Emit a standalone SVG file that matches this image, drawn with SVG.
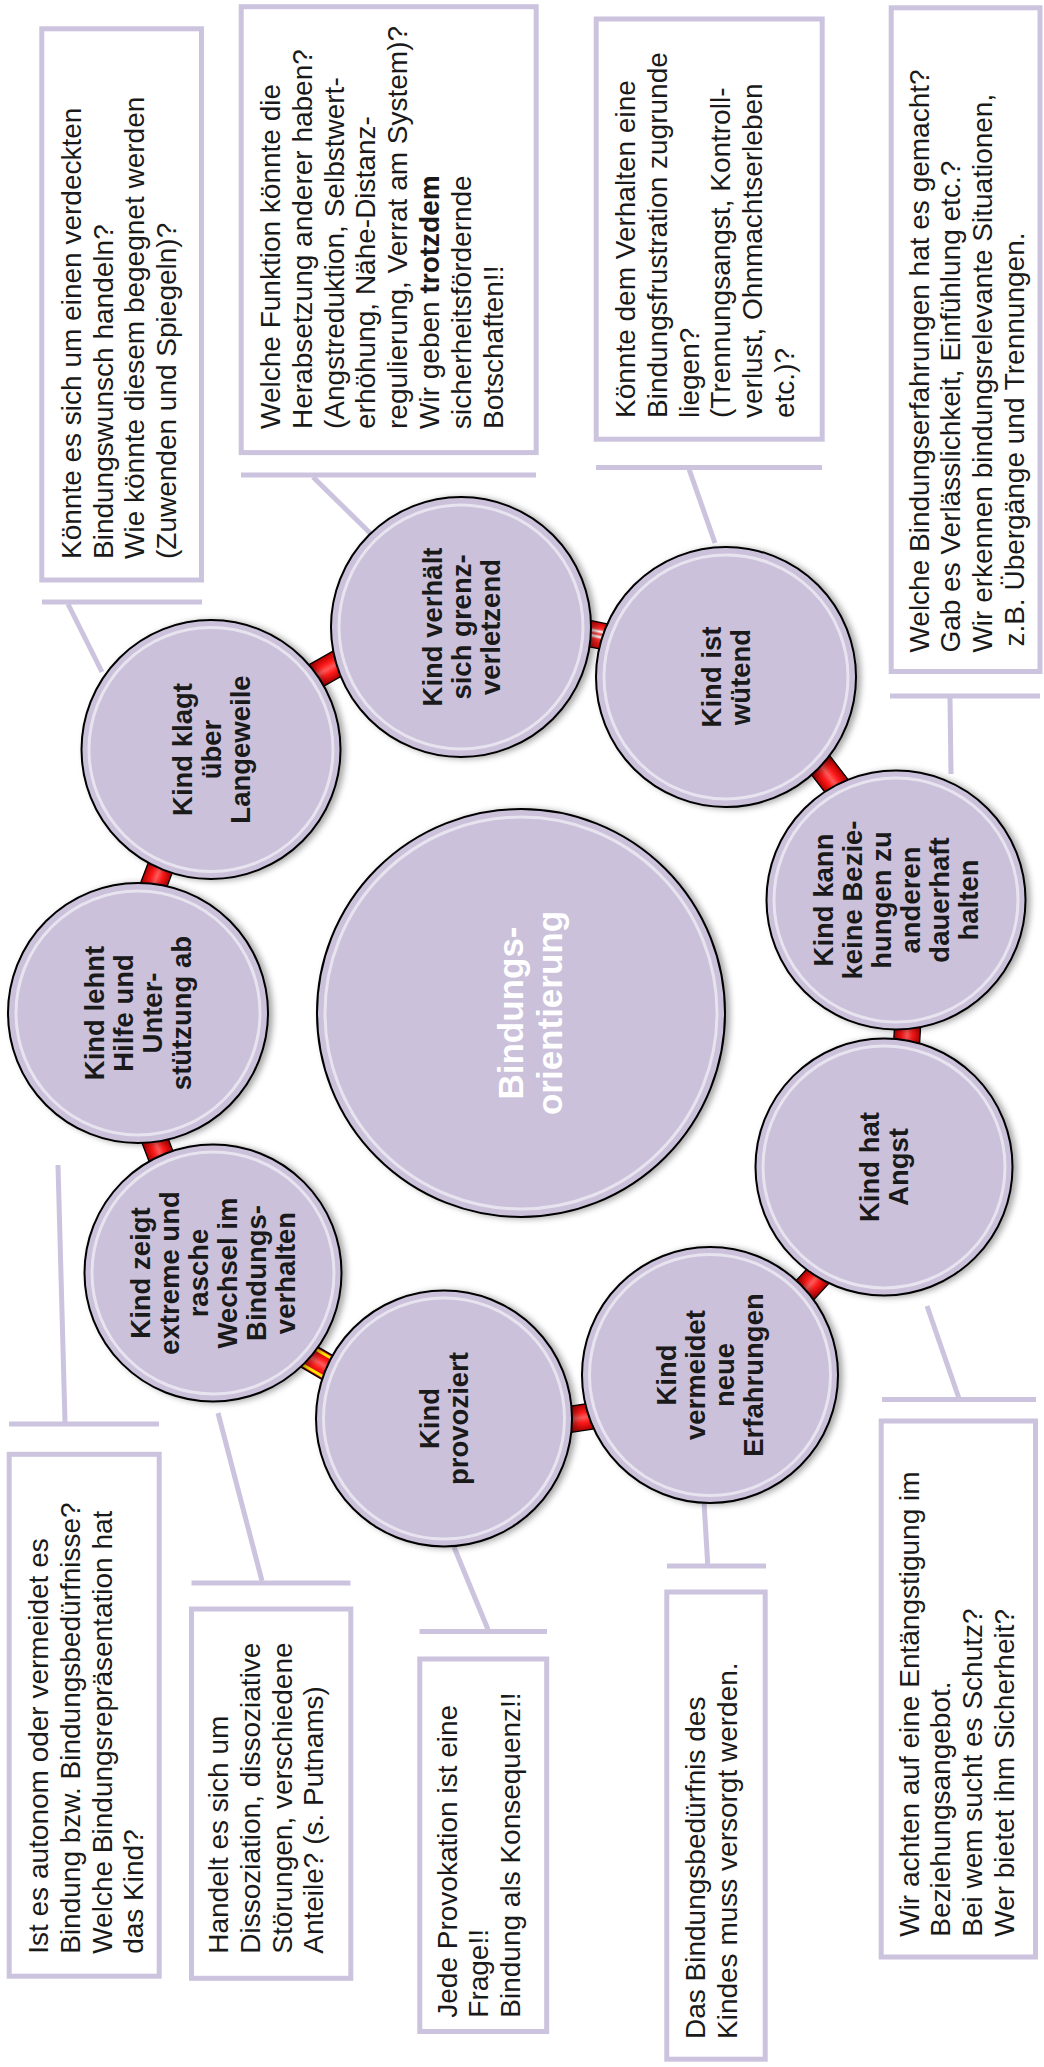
<svg xmlns="http://www.w3.org/2000/svg" width="1044" height="2067" viewBox="0 0 1044 2067">
<defs>
<style>
.box{fill:#fff;stroke:#CCC3DE;stroke-width:5}
.con{stroke:#CCC3DE;stroke-width:5;fill:none}
.bt{font-family:"Liberation Sans",Arial,sans-serif;font-size:28px;fill:#1a1a1a}
.ct{font-family:"Liberation Sans",Arial,sans-serif;font-size:27.5px;font-weight:bold;fill:#1a1a1a;text-anchor:middle}
.mt{font-family:"Liberation Sans",Arial,sans-serif;font-size:35px;font-weight:bold;fill:#fff;text-anchor:middle}
.disc{fill:#CBC1DB;stroke:#000;stroke-width:2;filter:url(#sh)}
.hl{fill:none;stroke:#fff;stroke-width:3;opacity:0.55}
.link{fill:url(#red);stroke:#000;stroke-width:1.3}
</style>
<filter id="sh" x="-15%" y="-15%" width="135%" height="135%">
<feDropShadow dx="4" dy="1" stdDeviation="3" flood-color="#000" flood-opacity="0.35"/>
</filter>
<linearGradient id="red" x1="0" y1="0" x2="0" y2="1">
<stop offset="0" stop-color="#B00000"/>
<stop offset="0.3" stop-color="#FF1A1A"/>
<stop offset="0.5" stop-color="#FF5A5A"/>
<stop offset="0.7" stop-color="#FF1A1A"/>
<stop offset="1" stop-color="#B00000"/>
</linearGradient>
<linearGradient id="redw" x1="0" y1="0" x2="0" y2="1">
<stop offset="0" stop-color="#D00000"/>
<stop offset="0.25" stop-color="#FF3030"/>
<stop offset="0.35" stop-color="#FFFFFF"/>
<stop offset="0.45" stop-color="#FF3030"/>
<stop offset="0.55" stop-color="#FFFFFF"/>
<stop offset="0.65" stop-color="#FF3030"/>
<stop offset="1" stop-color="#D00000"/>
</linearGradient>
</defs>

<g id="connectors">
<line class="con" x1="42" y1="602" x2="202" y2="602"/>
<line class="con" x1="68" y1="604" x2="102" y2="672"/>
<line class="con" x1="241" y1="475" x2="536" y2="475"/>
<line class="con" x1="313" y1="477" x2="370" y2="533"/>
<line class="con" x1="596" y1="467.5" x2="822" y2="467.5"/>
<line class="con" x1="689" y1="469" x2="715" y2="543"/>
<line class="con" x1="890" y1="696" x2="1040" y2="696"/>
<line class="con" x1="950" y1="698" x2="951" y2="774"/>
<line class="con" x1="9" y1="1424" x2="159" y2="1424"/>
<line class="con" x1="65" y1="1422" x2="58" y2="1165"/>
<line class="con" x1="191.5" y1="1583" x2="350.5" y2="1583"/>
<line class="con" x1="262" y1="1581" x2="218" y2="1413"/>
<line class="con" x1="419.5" y1="1631.5" x2="547" y2="1631.5"/>
<line class="con" x1="488" y1="1629.5" x2="454" y2="1547"/>
<line class="con" x1="667" y1="1566" x2="766" y2="1566"/>
<line class="con" x1="707.7" y1="1564" x2="704" y2="1502"/>
<line class="con" x1="882" y1="1399.5" x2="1036" y2="1399.5"/>
<line class="con" x1="958.7" y1="1397.5" x2="927" y2="1306"/>
<g id="links">
<rect class="link" x="-26" y="-13" width="52" height="26" transform="translate(157.5,875) rotate(-69.2)"/>
<rect class="link" x="-26" y="-13" width="52" height="26" transform="translate(326,670) rotate(-29.6)"/>
<rect class="link" x="-26" y="-13" width="52" height="26" style="fill:url(#redw)" transform="translate(599,635.5) rotate(11.7)"/>
<rect class="link" x="-26" y="-13" width="52" height="26" transform="translate(828.7,775.7) rotate(52.4)"/>
<rect class="link" x="-26" y="-13" width="52" height="26" transform="translate(907,1036) rotate(93.4)"/>
<rect class="link" x="-26" y="-13" width="52" height="26" transform="translate(813,1281.5) rotate(132.6)"/>
<rect class="link" x="-26" y="-13" width="52" height="26" transform="translate(582.5,1417.5) rotate(171.4)"/>
<g transform="translate(317.5,1361.7) rotate(210.3)">
<rect class="link" x="-26" y="-13" width="52" height="26"/>
<line x1="-26" y1="-10" x2="26" y2="-10" stroke="#FFE600" stroke-width="3"/>
<line x1="-26" y1="10" x2="26" y2="10" stroke="#FFE600" stroke-width="3"/>
</g>
<rect class="link" x="-26" y="-13" width="52" height="26" transform="translate(159,1151) rotate(249.1)"/>
</g>
</g>

<g id="box-verdeckt">
<rect class="box" x="41.8" y="28.8" width="159.7" height="551.2"/>
<text class="bt" transform="translate(81,559) rotate(-90)"><tspan x="0" y="0">Könnte es sich um einen verdeckten</tspan><tspan x="0" y="31.7">Bindungswunsch handeln?</tspan><tspan x="0" y="63.4">Wie könnte diesem begegnet werden</tspan><tspan x="0" y="95.1">(Zuwenden und Spiegeln)?</tspan></text>
</g>

<g id="box-funktion">
<rect class="box" x="241.2" y="6.7" width="295" height="445.9"/>
<text class="bt" transform="translate(280,429) rotate(-90)"><tspan x="0" y="0">Welche Funktion könnte die</tspan><tspan x="0" y="31.8">Herabsetzung anderer haben?</tspan><tspan x="0" y="63.6">(Angstreduktion, Selbstwert-</tspan><tspan x="0" y="95.4">erhöhung, Nähe-Distanz-</tspan><tspan x="0" y="127.2">regulierung, Verrat am System)?</tspan><tspan x="0" y="159">Wir geben <tspan font-weight="bold">trotzdem</tspan></tspan><tspan x="0" y="190.8">sicherheitsfördernde</tspan><tspan x="0" y="222.6">Botschaften!!</tspan></text>
</g>

<g id="box-frustration">
<rect class="box" x="596.2" y="19" width="226" height="420.2"/>
<text class="bt" transform="translate(635.3,418) rotate(-90)"><tspan x="0" y="0">Könnte dem Verhalten eine</tspan><tspan x="0" y="31.7">Bindungsfrustration zugrunde</tspan><tspan x="0" y="63.4">liegen?</tspan><tspan x="0" y="95.1">(Trennungsangst, Kontroll-</tspan><tspan x="0" y="126.8">verlust, Ohnmachtserleben</tspan><tspan x="0" y="158.5">etc.)?</tspan></text>
</g>

<g id="box-erfahrungen">
<rect class="box" x="891.2" y="7.8" width="148.8" height="663.7"/>
<text class="bt" transform="translate(928.7,652.6) rotate(-90)"><tspan x="0" y="0">Welche Bindungserfahrungen hat es gemacht?</tspan><tspan x="0" y="31.7">Gab es Verlässlichkeit, Einfühlung etc.?</tspan><tspan x="0" y="63.4">Wir erkennen bindungsrelevante Situationen,</tspan><tspan x="6" y="95.1">z.B. Übergänge und Trennungen.</tspan></text>
</g>

<g id="box-autonom">
<rect class="box" x="9.2" y="1454.3" width="150" height="521.9"/>
<text class="bt" transform="translate(48.3,1953.8) rotate(-90)"><tspan x="0" y="0">Ist es autonom oder vermeidet es</tspan><tspan x="0" y="31.7">Bindung bzw. Bindungsbedürfnisse?</tspan><tspan x="0" y="63.4">Welche Bindungsrepräsentation hat</tspan><tspan x="0" y="95.1">das Kind?</tspan></text>
</g>

<g id="box-dissoziation">
<rect class="box" x="191.5" y="1609" width="159.3" height="369.3"/>
<text class="bt" transform="translate(228.3,1953.8) rotate(-90)"><tspan x="0" y="0">Handelt es sich um</tspan><tspan x="0" y="31.7">Dissoziation, dissoziative</tspan><tspan x="0" y="63.4">Störungen, verschiedene</tspan><tspan x="0" y="95.1">Anteile? (s. Putnams)</tspan></text>
</g>

<g id="box-provokation">
<rect class="box" x="419.8" y="1659" width="126.9" height="372.5"/>
<text class="bt" transform="translate(456.7,2017.7) rotate(-90)"><tspan x="0" y="0">Jede Provokation ist eine</tspan><tspan x="0" y="31.7">Frage!!</tspan><tspan x="0" y="63.4">Bindung als Konsequenz!!</tspan></text>
</g>

<g id="box-versorgt">
<rect class="box" x="666.8" y="1592" width="98.4" height="467.2"/>
<text class="bt" transform="translate(705.3,2039) rotate(-90)"><tspan x="0" y="0">Das Bindungsbedürfnis des</tspan><tspan x="0" y="31.7">Kindes muss versorgt werden.</tspan></text>
</g>

<g id="box-angst">
<rect class="box" x="881.2" y="1421" width="154.3" height="536"/>
<text class="bt" transform="translate(918.7,1936.8) rotate(-90)"><tspan x="0" y="0">Wir achten auf eine Entängstigung im</tspan><tspan x="0" y="31.7">Beziehungsangebot.</tspan><tspan x="0" y="63.4">Bei wem sucht es Schutz?</tspan><tspan x="0" y="95.1">Wer bietet ihm Sicherheit?</tspan></text>
</g>

<g id="node-center">
<circle class="disc" cx="521" cy="1013" r="204"/>
<circle class="hl" cx="521" cy="1013" r="196"/>
<text class="mt" transform="translate(0,1013) rotate(-90)"><tspan x="0" y="523">Bindungs-</tspan><tspan x="0" y="562">orientierung</tspan></text>
</g>

<g id="node-klagt">
<circle class="disc" cx="211" cy="749.5" r="129.5"/>
<circle class="hl" cx="211" cy="749.5" r="122"/>
<text class="ct" transform="translate(211,749.5) rotate(-90)"><tspan x="0" y="-19.2">Kind klagt</tspan><tspan x="0" y="9.8">über</tspan><tspan x="0" y="38.8">Langeweile</tspan></text>
</g>

<g id="node-grenz">
<circle class="disc" cx="461" cy="627" r="130"/>
<circle class="hl" cx="461" cy="627" r="122"/>
<text class="ct" transform="translate(461,627) rotate(-90)"><tspan x="0" y="-19.2">Kind verhält</tspan><tspan x="0" y="9.8">sich grenz-</tspan><tspan x="0" y="38.8">verletzend</tspan></text>
</g>

<g id="node-wuetend">
<circle class="disc" cx="726" cy="677" r="130"/>
<circle class="hl" cx="726" cy="677" r="122"/>
<text class="ct" transform="translate(726,677) rotate(-90)"><tspan x="0" y="-4.7">Kind ist</tspan><tspan x="0" y="24.3">wütend</tspan></text>
</g>

<g id="node-beziehungen">
<circle class="disc" cx="896" cy="900" r="129.5"/>
<circle class="hl" cx="896" cy="900" r="122"/>
<text class="ct" transform="translate(896,900) rotate(-90)"><tspan x="0" y="-62.7">Kind kann</tspan><tspan x="0" y="-33.7">keine Bezie-</tspan><tspan x="0" y="-4.7">hungen zu</tspan><tspan x="0" y="24.3">anderen</tspan><tspan x="0" y="53.3">dauerhaft</tspan><tspan x="0" y="82.3">halten</tspan></text>
</g>

<g id="node-angst">
<circle class="disc" cx="884" cy="1167" r="128.5"/>
<circle class="hl" cx="884" cy="1167" r="121"/>
<text class="ct" transform="translate(884,1167) rotate(-90)"><tspan x="0" y="-4.7">Kind hat</tspan><tspan x="0" y="24.3">Angst</tspan></text>
</g>

<g id="node-vermeidet">
<circle class="disc" cx="710" cy="1375" r="128"/>
<circle class="hl" cx="710" cy="1375" r="120.5"/>
<text class="ct" transform="translate(710,1375) rotate(-90)"><tspan x="0" y="-33.7">Kind</tspan><tspan x="0" y="-4.7">vermeidet</tspan><tspan x="0" y="24.3">neue</tspan><tspan x="0" y="53.3">Erfahrungen</tspan></text>
</g>

<g id="node-provoziert">
<circle class="disc" cx="444" cy="1418.5" r="128"/>
<circle class="hl" cx="444" cy="1418.5" r="120.5"/>
<text class="ct" transform="translate(444,1418.5) rotate(-90)"><tspan x="0" y="-4.7">Kind</tspan><tspan x="0" y="24.3">provoziert</tspan></text>
</g>

<g id="node-wechsel">
<circle class="disc" cx="213" cy="1273" r="128.5"/>
<circle class="hl" cx="213" cy="1273" r="121"/>
<text class="ct" transform="translate(213,1273) rotate(-90)"><tspan x="0" y="-62.7">Kind zeigt</tspan><tspan x="0" y="-33.7">extreme und</tspan><tspan x="0" y="-4.7">rasche</tspan><tspan x="0" y="24.3">Wechsel im</tspan><tspan x="0" y="53.3">Bindungs-</tspan><tspan x="0" y="82.3">verhalten</tspan></text>
</g>

<g id="node-hilfe">
<circle class="disc" cx="138" cy="1013" r="130"/>
<circle class="hl" cx="138" cy="1013" r="122"/>
<text class="ct" transform="translate(138,1013) rotate(-90)"><tspan x="0" y="-33.7">Kind lehnt</tspan><tspan x="0" y="-4.7">Hilfe und</tspan><tspan x="0" y="24.3">Unter-</tspan><tspan x="0" y="53.3">stützung ab</tspan></text>
</g>
</svg>
